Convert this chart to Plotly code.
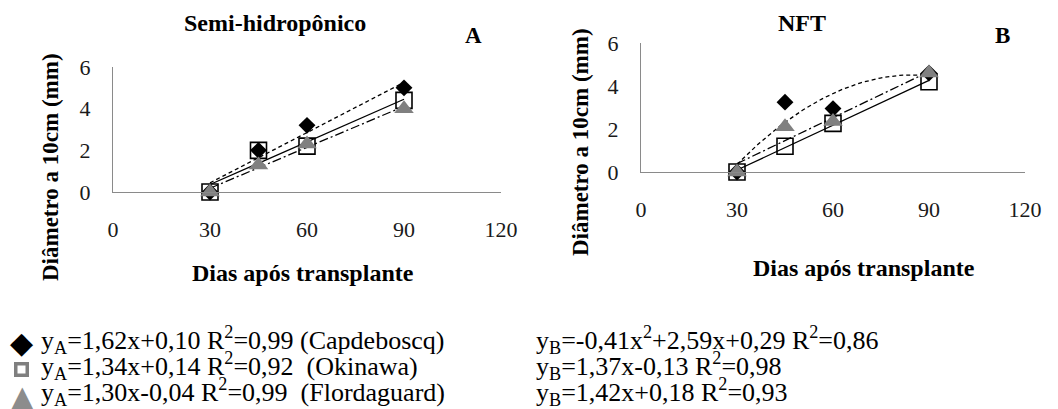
import numpy as np
import plotly.graph_objects as go

# ---------------- data ----------------
days = [30, 45, 60, 90]

# Panel A - Semi-hidropônico
a_capdeboscq = [0.0, 2.0, 3.2, 5.0]
a_okinawa = [0.0, 2.0, 2.2, 4.4]
a_flordaguard = [0.0, 1.3, 2.3, 4.0]

# Panel B - NFT
b_capdeboscq = [0.0, 3.25, 2.95, 4.6]
b_okinawa = [0.0, 1.2, 2.26, 4.2]
b_flordaguard = [0.0, 2.1, 2.35, 4.6]

x_ticks = [0, 30, 60, 90, 120]
y_ticks = [0, 2, 4, 6]

legend_a = [
    "y<sub>A</sub>=1,62x+0,10 R<sup>2</sup>=0,99 (Capdeboscq)",
    "y<sub>A</sub>=1,34x+0,14 R<sup>2</sup>=0,92&nbsp; (Okinawa)",
    "y<sub>A</sub>=1,30x-0,04 R<sup>2</sup>=0,99&nbsp; (Flordaguard)",
]
legend_b = [
    "y<sub>B</sub>=-0,41x<sup>2</sup>+2,59x+0,29 R<sup>2</sup>=0,86",
    "y<sub>B</sub>=1,37x-0,13 R<sup>2</sup>=0,98",
    "y<sub>B</sub>=1,42x+0,18 R<sup>2</sup>=0,93",
]

# the page body adds an 8px margin, so the figure is drawn 8px in from the top-left
OFF = 8
W, H = 1058 - OFF, 409 - OFF
FONT = "'Times New Roman', 'Liberation Serif', 'DejaVu Serif', serif"


def px(x):
    return (x - OFF) / W


def py(y):
    return 1 - (y - OFF) / H


def trend(xs, ys, deg):
    coef = np.polyfit(xs, ys, deg)
    xx = np.linspace(min(xs), max(xs), 60)
    return xx, np.polyval(coef, xx)


fig = go.Figure()

series = [
    ("x", "y", a_capdeboscq, 1, "4px,3px", dict(symbol="diamond", size=13, color="black")),
    ("x", "y", a_okinawa, 1, "solid", dict(symbol="square-open", size=16, color="black", line=dict(width=1.6, color="black"))),
    ("x", "y", a_flordaguard, 1, "9px,3px,2px,3px", dict(symbol="triangle-up", size=17, color="#808080")),
    ("x2", "y2", b_capdeboscq, 2, "4px,3px", dict(symbol="diamond", size=13, color="black")),
    ("x2", "y2", b_okinawa, 1, "solid", dict(symbol="square-open", size=16, color="black", line=dict(width=1.6, color="black"))),
    ("x2", "y2", b_flordaguard, 1, "9px,3px,2px,3px", dict(symbol="triangle-up", size=17, color="#808080")),
]

for xa, ya, vals, deg, dash, mk in series:
    xx, yy = trend(days, vals, deg)
    fig.add_trace(go.Scatter(x=xx, y=yy, xaxis=xa, yaxis=ya, mode="lines",
                             line=dict(color="black", width=1.3, dash=dash),
                             showlegend=False, cliponaxis=False, hoverinfo="skip"))

for xa, ya, vals, deg, dash, mk in series:
    fig.add_trace(go.Scatter(x=days, y=vals, xaxis=xa, yaxis=ya, mode="markers",
                             marker=mk, showlegend=False, cliponaxis=False))

axis_common = dict(showline=True, linecolor="#8a8a8a", linewidth=1, ticks="",
                   showgrid=False, zeroline=False, automargin=False,
                   tickfont=dict(family=FONT, size=22, color="#1a1a1a"))

fig.update_layout(
    template="none",
    width=W, height=H,
    margin=dict(l=0, r=0, t=0, b=0, pad=0, autoexpand=False),
    paper_bgcolor="white", plot_bgcolor="white",
    font=dict(family=FONT, color="black"),
    showlegend=False,
    xaxis=dict(domain=[px(113), px(501)], range=[0, 120], tickvals=x_ticks,
               anchor="y", ticklabelstandoff=18, **axis_common),
    yaxis=dict(domain=[py(192), py(67)], range=[0, 6], tickvals=y_ticks,
               anchor="x", ticklabelstandoff=17, **axis_common),
    xaxis2=dict(domain=[px(641), px(1025)], range=[0, 120], tickvals=x_ticks,
                anchor="y2", ticklabelstandoff=18, **axis_common),
    yaxis2=dict(domain=[py(172), py(43)], range=[0, 6], tickvals=y_ticks,
                anchor="x2", ticklabelstandoff=17, **axis_common),
)

ann = []


def text(x, y, t, size, bold=False, angle=0, xanchor="center", color="black", family=FONT):
    ann.append(dict(x=px(x), y=py(y), xref="paper", yref="paper", showarrow=False,
                    text=f"<b>{t}</b>" if bold else t, textangle=angle,
                    xanchor=xanchor, yanchor="middle",
                    font=dict(family=family, size=size, color=color)))


# titles and labels
text(275, 23, "Semi-hidropônico", 24, bold=True)
text(473, 36, "A", 23, bold=True)
text(802, 23, "NFT", 24, bold=True)
text(1002, 35, "B", 23, bold=True)
text(50, 167, "Diâmetro a 10cm (mm)", 23, bold=True, angle=-90)
text(580, 142, "Diâmetro a 10cm (mm)", 23, bold=True, angle=-90)
text(303, 273, "Dias após transplante", 24, bold=True)
text(864, 268, "Dias após transplante", 24, bold=True)

# equation legend
rows = [340, 366, 392]
for r, t in zip(rows, legend_a):
    text(39, r, t, 26, xanchor="left")
for r, t in zip(rows, legend_b):
    text(534, r, t, 26, xanchor="left")

# legend symbols
text(21, rows[0] + 2, "◆", 30, family="DejaVu Sans")
ann.append(dict(x=px(21), y=py(rows[1] + 3), xref="paper", yref="paper", showarrow=False,
                xanchor="center", yanchor="middle",
                text="&nbsp;", width=8, height=8, borderpad=0, borderwidth=3.5,
                bordercolor="#7f7f7f", font=dict(size=4)))
text(22, rows[2] + 5, "▲", 32, color="#8c8c8c", family="DejaVu Sans")

fig.update_layout(annotations=ann)
fig.write_html("out.html")
